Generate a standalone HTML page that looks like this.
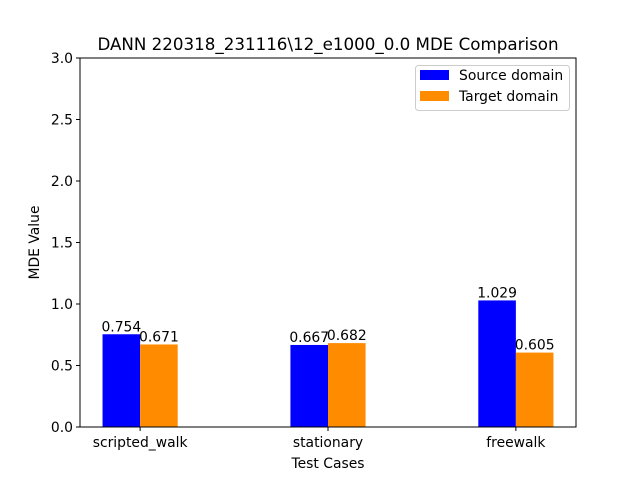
<!DOCTYPE html>
<html><head><meta charset="utf-8"><style>
body{margin:0;background:#fff;}
svg text{font-family:"DejaVu Sans","Liberation Sans",sans-serif;}
</style></head><body>
<svg id="chart" width="640" height="480" viewBox="0 0 640 480" xmlns="http://www.w3.org/2000/svg">
<rect width="640" height="480" fill="#fff"/>
<text x="328" y="50" font-size="16.7" text-anchor="middle">DANN 220318_231116\12_e1000_0.0 MDE Comparison</text>
<g id="bars"></g>
<g id="axes"></g>
</svg>
<script>
const categories=["scripted_walk","stationary","freewalk"];
const sourceValues=[0.754,0.667,1.029];
const targetValues=[0.671,0.682,0.605];
const yTicks=[0,0.5,1,1.5,2,2.5,3];
const L=80,R=576,T=58,B=427;
const xMin=-0.32,xMax=2.32,yMin=0,yMax=3;
const FS=13.9;
const sx=v=>L+(v-xMin)/(xMax-xMin)*(R-L);
const sy=v=>B-(v-yMin)/(yMax-yMin)*(B-T);
const NS="http://www.w3.org/2000/svg";
const bars=document.getElementById('bars'),axes=document.getElementById('axes');
function mk(tag,attrs,parent,text){const e=document.createElementNS(NS,tag);for(const k in attrs)e.setAttribute(k,attrs[k]);if(text!==undefined)e.textContent=text;parent.appendChild(e);return e;}
const w=0.2;
categories.forEach((c,i)=>{
  [[sourceValues,'#0000ff',-w,'source'],[targetValues,'#ff8c00',0,'target']].forEach(([arr,col,off,nm])=>{
    const x0=sx(i+off),x1=sx(i+off+w),y=sy(arr[i]);
    const r=mk('rect',{x:x0,y:y,width:x1-x0,height:B-y,fill:col},bars);
    
    
    const t=mk('text',{x:(x0+x1)/2,y:y-3,'font-size':FS,'text-anchor':'middle'},bars,arr[i].toFixed(3));
    
    
  });
  const tx=sx(i);
  mk('line',{x1:tx,x2:tx,y1:B,y2:B+4,stroke:'#000'},axes);
  const lt=mk('text',{x:tx,y:B+20,'font-size':FS,'text-anchor':'middle'},axes,c);
  
  
});
yTicks.forEach(v=>{
  const y=sy(v);
  mk('line',{x1:L-4,x2:L,y1:y,y2:y,stroke:'#000'},axes);
  const t=mk('text',{x:L-7,y:y+5,'font-size':FS,'text-anchor':'end'},axes,v.toFixed(1));
  
  
});
const fr=mk('rect',{x:L,y:T,width:R-L,height:B-T,fill:'none',stroke:'#000','stroke-width':1},axes);


const xl=mk('text',{x:(L+R)/2,y:468,'font-size':FS,'text-anchor':'middle'},axes,'Test Cases');


const yl=mk('text',{x:0,y:0,'font-size':FS,'text-anchor':'middle',transform:`translate(39,${(T+B)/2}) rotate(-90)`},axes,'MDE Value');


const lg=mk('g',{},axes);


mk('rect',{x:415.5,y:65.5,width:154,height:45,rx:3,fill:'#fff',stroke:'#ccc'},lg);
[['Source domain','#0000ff'],['Target domain','#ff8c00']].forEach(([n,c],k)=>{
  const y=70+k*21;
  mk('rect',{x:420,y:y,width:29,height:10,fill:c},lg);
  const t=mk('text',{x:459,y:y+10,'font-size':FS},lg,n);
  
  
});
</script>
</body></html>
